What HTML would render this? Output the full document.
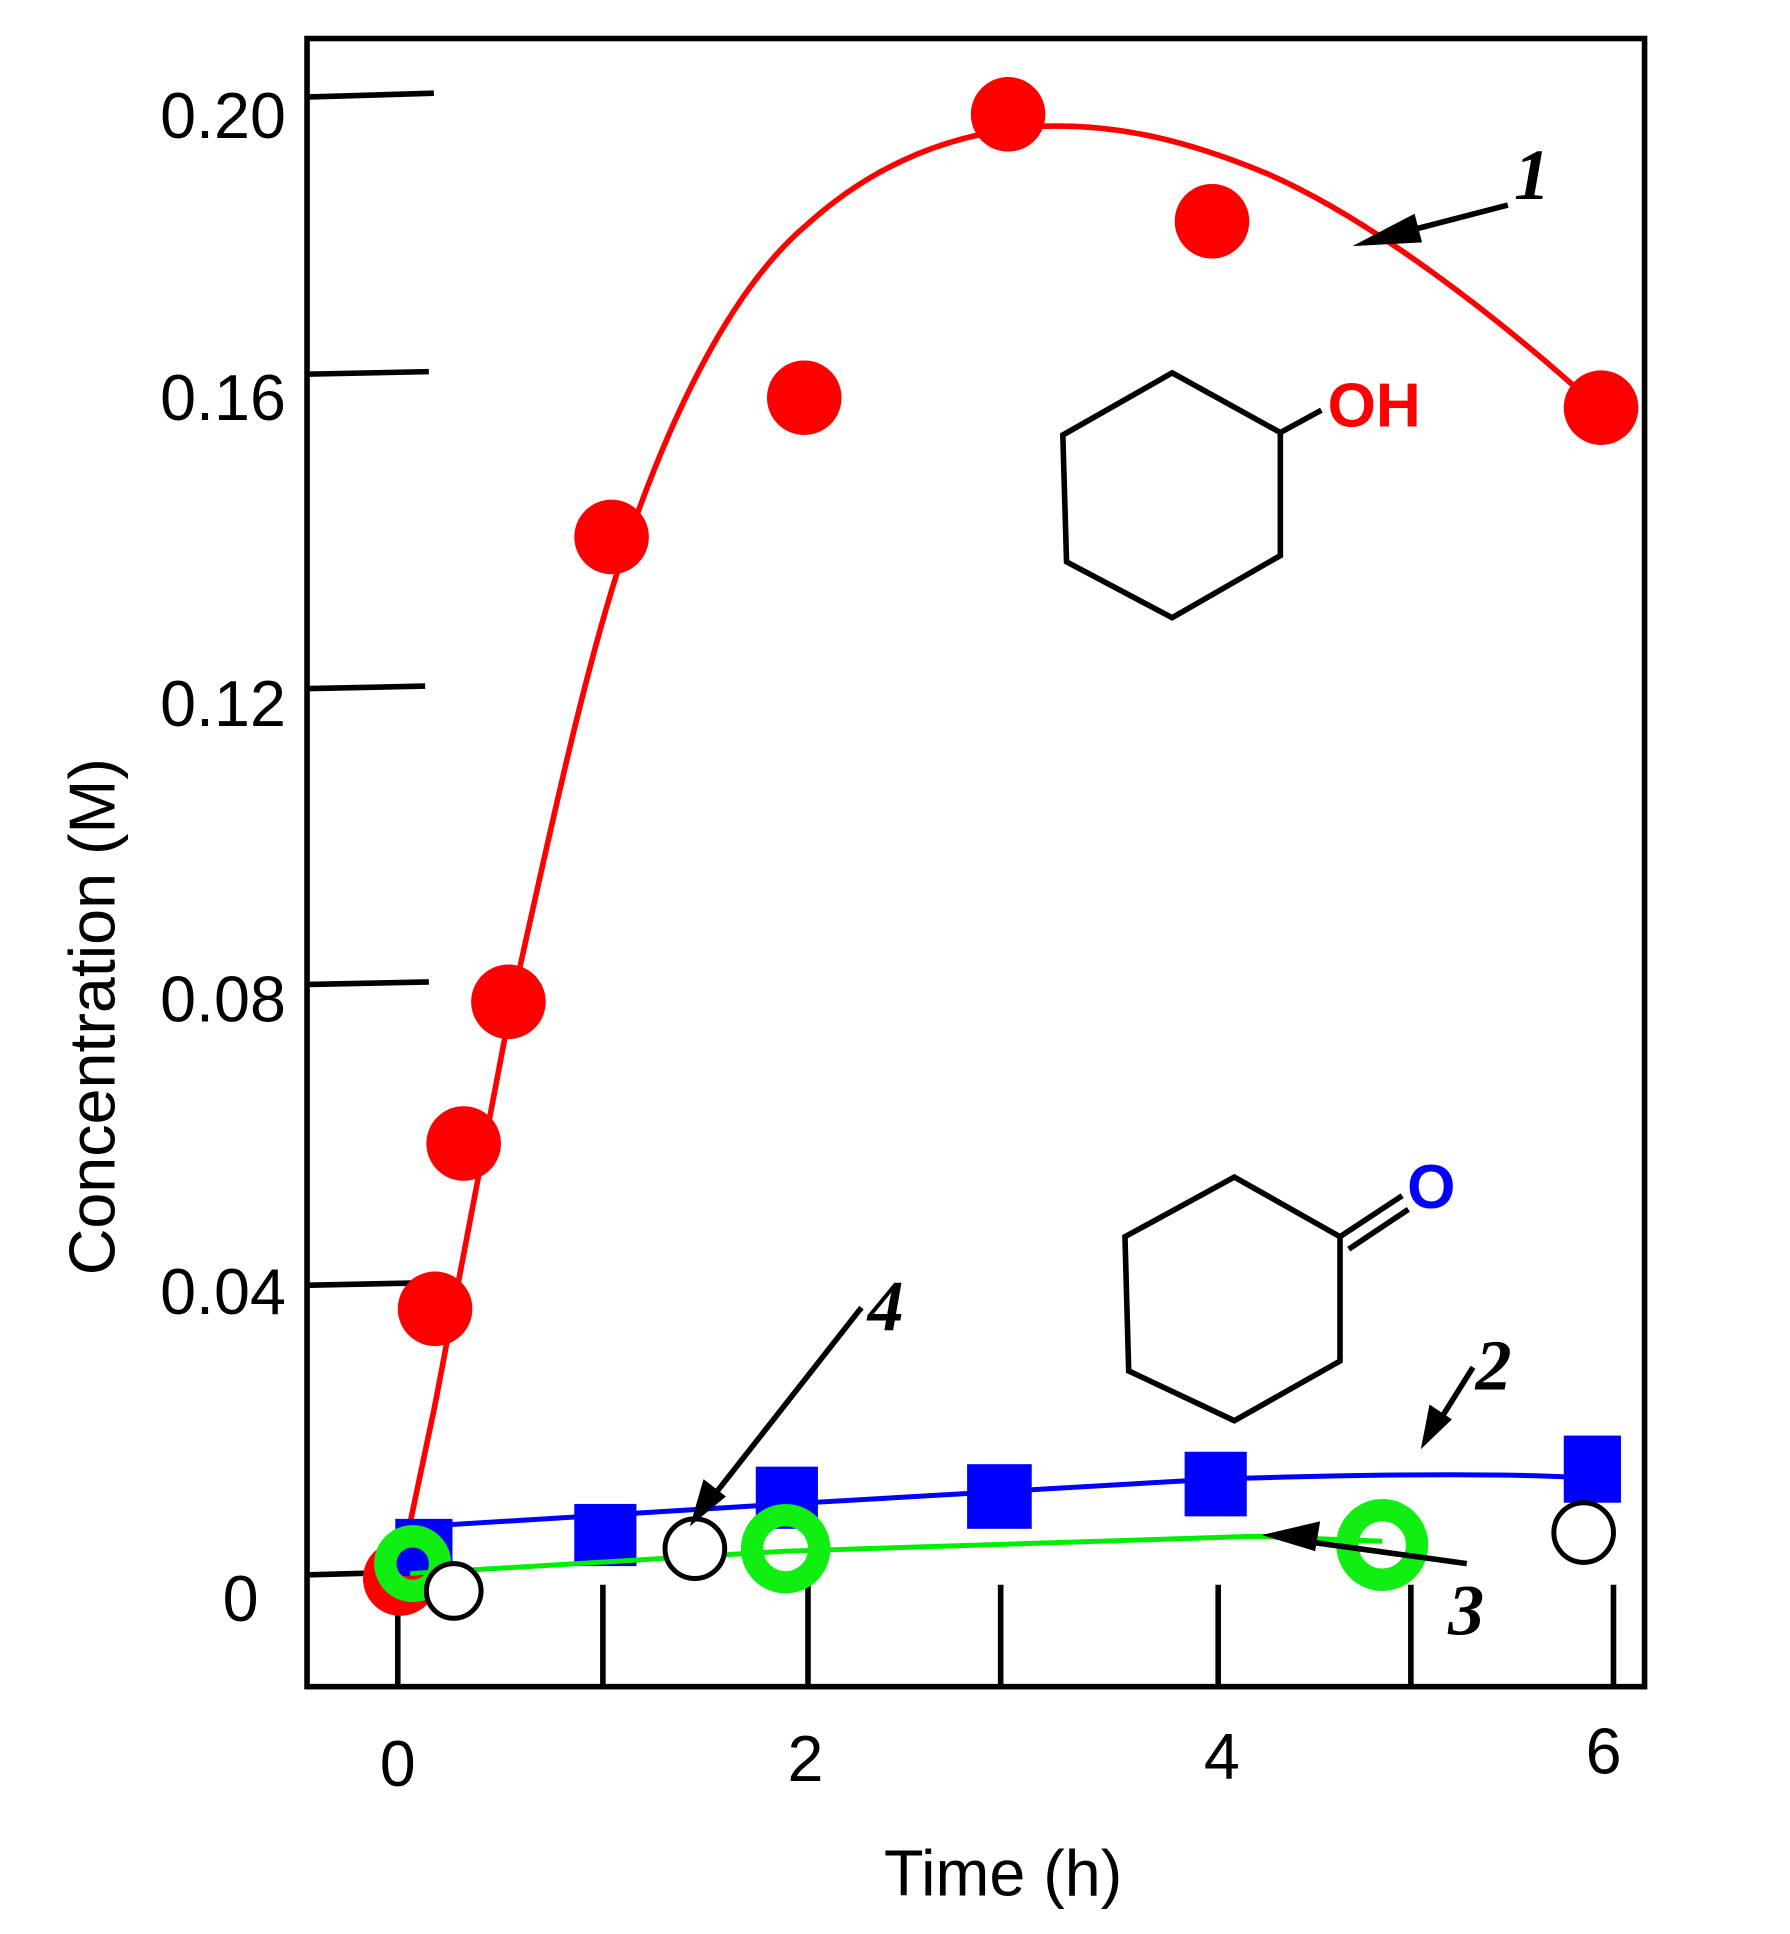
<!DOCTYPE html>
<html><head><style>html,body{margin:0;padding:0;background:#fff}svg{display:block}</style></head>
<body>
<svg width="1790" height="1934" viewBox="0 0 1440 1556" preserveAspectRatio="none" xmlns="http://www.w3.org/2000/svg" font-family="Liberation Sans, sans-serif">
<rect x="247" y="31" width="1076" height="1326" fill="none" stroke="#000" stroke-width="4.5"/>
<g stroke="#000" stroke-width="4.5">
<line x1="249" y1="78" x2="349" y2="75"/>
<line x1="249" y1="301" x2="345" y2="299"/>
<line x1="249" y1="554" x2="342" y2="552"/>
<line x1="249" y1="792" x2="345" y2="790"/>
<line x1="249" y1="1034" x2="347" y2="1032"/>
<line x1="249" y1="1267" x2="322" y2="1265"/>
<line x1="320" y1="1357" x2="320" y2="1278"/>
<line x1="485" y1="1357" x2="485" y2="1275"/>
<line x1="650" y1="1357" x2="650" y2="1275"/>
<line x1="805" y1="1357" x2="805" y2="1275"/>
<line x1="980" y1="1357" x2="980" y2="1275"/>
<line x1="1135" y1="1357" x2="1135" y2="1275"/>
<line x1="1298" y1="1357" x2="1298" y2="1275"/>
</g>
<g font-size="52" text-anchor="end" fill="#000">
<text x="230" y="111">0.20</text>
<text x="230" y="338">0.16</text>
<text x="230" y="584">0.12</text>
<text x="230" y="822">0.08</text>
<text x="230" y="1057">0.04</text>
<text x="208" y="1304">0</text>
</g>
<g font-size="52" text-anchor="middle">
<text x="320" y="1437">0</text><text x="648" y="1433">2</text><text x="983" y="1431">4</text><text x="1290" y="1427">6</text>
<text x="807" y="1525">Time (h)</text>
<text transform="translate(92,818) rotate(-90)">Concentration (M)</text>
</g>
<!-- red -->
<path d="M318,1282 L350,1130 L409,820 C440,680 470,540 500,450 C540,330 590,230 650,180 C700,135 760,108 830,102 C900,98 960,115 1020,140 C1100,175 1200,250 1288,330" fill="none" stroke="#f00" stroke-width="4.5"/>
<g fill="#f00">
<circle cx="322" cy="1270" r="30"/><circle cx="350" cy="1053" r="30"/><circle cx="373" cy="920" r="30"/><circle cx="409" cy="806" r="30"/><circle cx="492" cy="432" r="30"/><circle cx="647" cy="320" r="30"/><circle cx="811" cy="92" r="30"/><circle cx="975" cy="178" r="30"/><circle cx="1288" cy="328" r="30"/>
</g>
<!-- blue -->
<path d="M340,1228 L633,1210 L978,1190 Q1200,1183 1290,1190" fill="none" stroke="#00f" stroke-width="4"/>
<g fill="#00f">
<rect x="318" y="1222" width="46" height="46"/><rect x="462" y="1210" width="50" height="50"/><rect x="608" y="1180" width="50" height="50"/><rect x="778" y="1178" width="52" height="52"/><rect x="953" y="1168" width="50" height="52"/><rect x="1258" y="1155" width="46" height="54"/>
</g>
<!-- green -->
<path d="M330,1266 L632,1248 L1010,1236 L1112,1240" fill="none" stroke="#0e0" stroke-width="4"/>
<g fill="none" stroke="#1e1" stroke-width="18">
<circle cx="332" cy="1258" r="22"/><circle cx="632" cy="1246" r="27"/><circle cx="1112" cy="1243" r="28"/>
</g>
<!-- open -->
<g fill="#fff" stroke="#000" stroke-width="4">
<circle cx="365" cy="1280" r="22"/><circle cx="559" cy="1246" r="24"/><circle cx="1274" cy="1233" r="24"/>
</g>
<!-- arrows -->
<g stroke="#000" stroke-width="4.5" fill="#000">
<line x1="1213" y1="165" x2="1105" y2="193"/><polygon points="1088,198 1138,172 1144,195" stroke="none"/>
<line x1="1185" y1="1100" x2="1155" y2="1148"/><polygon points="1143,1166 1150,1130 1168,1142" stroke="none"/>
<line x1="1180" y1="1258" x2="1035" y2="1238"/><polygon points="1015,1235 1062,1224 1058,1248" stroke="none"/>
<line x1="693" y1="1052" x2="565" y2="1215"/><polygon points="555,1228 566,1190 584,1204" stroke="none"/>
</g>
<g font-family="Liberation Serif, serif" font-style="italic" font-weight="bold" font-size="58">
<text x="1218" y="160">1</text><text x="1187" y="1118">2</text><text x="1165" y="1315">3</text><text x="698" y="1070">4</text>
</g>
<!-- molecules -->
<g fill="none" stroke="#000" stroke-width="4.5">
<polygon points="943,300 1030,348 1030,447 943,497 858,452 855,350"/>
<line x1="1030" y1="348" x2="1063" y2="330"/>
<polygon points="993,947 1078,995 1078,1095 993,1143 908,1103 905,995"/>
<line x1="1078" y1="995" x2="1128" y2="962"/>
<line x1="1085" y1="1005" x2="1133" y2="973"/>
</g>
<text x="1068" y="343" font-size="50" font-weight="bold" fill="#f00">OH</text>
<text x="1132" y="972" font-size="50" font-weight="bold" fill="#00f">O</text>
</svg>
</body></html>
